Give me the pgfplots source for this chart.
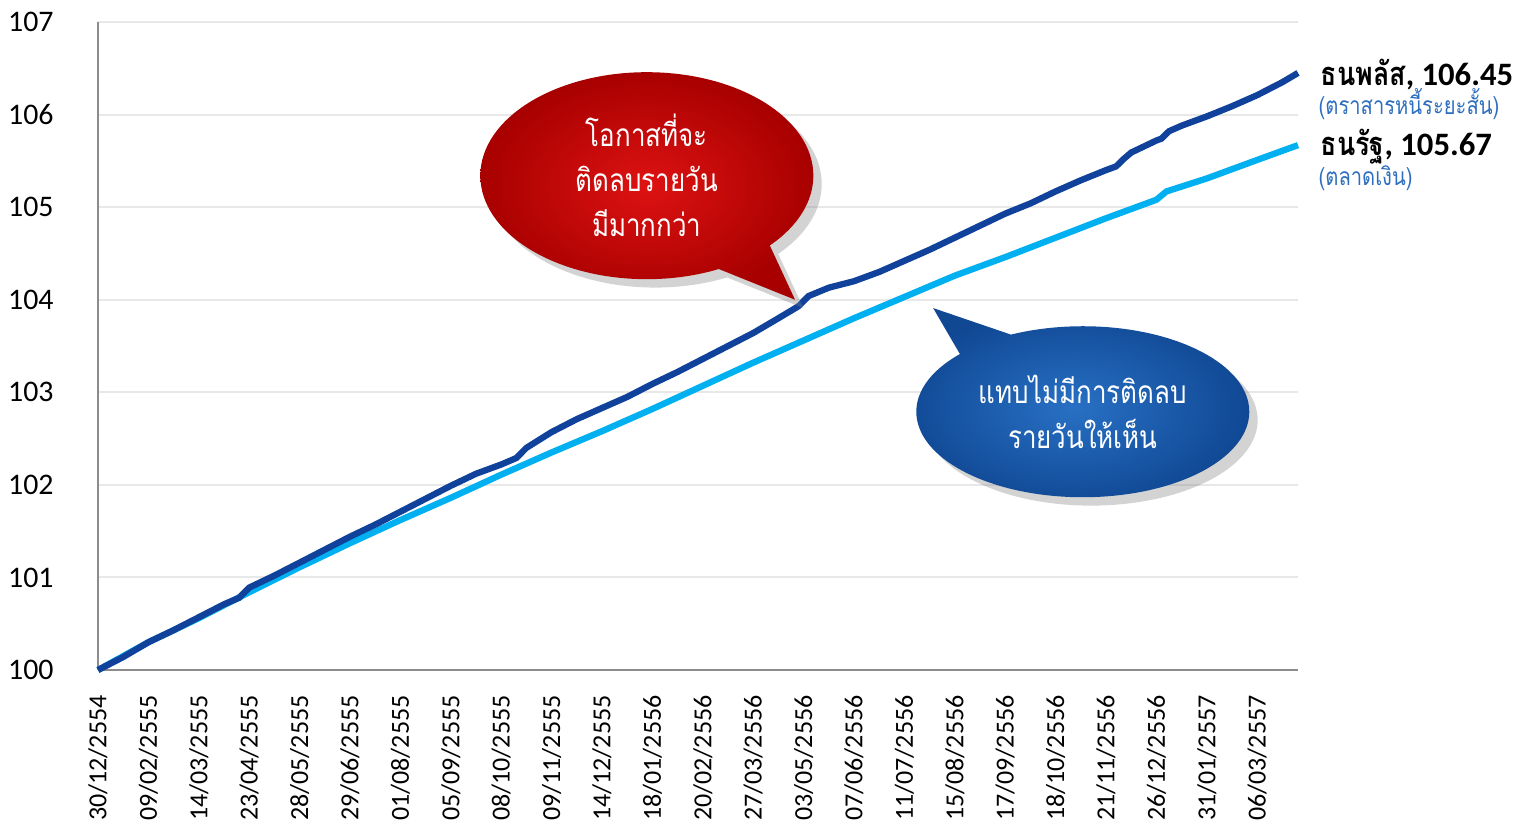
\documentclass[border=0pt]{standalone}
\usepackage{pgfplots}
\pgfplotsset{compat=1.18}
\usepackage{fontspec}
\setmainfont{Carlito}
\newfontfamily\thai[Script=Thai, FakeStretch=0.82]{Loma}
\usetikzlibrary{shapes.callouts,shadows}
\definecolor{darkline}{RGB}{16,66,156}
\definecolor{lightline}{RGB}{0,176,240}
\definecolor{subblue}{RGB}{46,110,190}
\definecolor{gridc}{RGB}{232,232,232}
\definecolor{axc}{RGB}{140,140,140}
\begin{document}
\begin{tikzpicture}
\path[use as bounding box] (-0.98cm,-1.55cm) rectangle (14.2cm,6.7cm);
\begin{axis}[
  at={(0,0)}, anchor=south west,
  scale only axis, width=12cm, height=6.48cm,
  xmin=0, xmax=23.81, ymin=100, ymax=107,
  axis lines*=left,
  axis line style={draw=axc, line width=0.6pt},
  ymajorgrids, grid style={draw=gridc, line width=0.6pt},
  major tick length=0pt,
  ytick={100,101,...,107},
  xtick={0,1,...,23},
  xticklabels={30/12/2554,09/02/2555,14/03/2555,23/04/2555,28/05/2555,29/06/2555,01/08/2555,05/09/2555,08/10/2555,09/11/2555,14/12/2555,18/01/2556,20/02/2556,27/03/2556,03/05/2556,07/06/2556,11/07/2556,15/08/2556,17/09/2556,18/10/2556,21/11/2556,26/12/2556,31/01/2557,06/03/2557},
  xticklabel style={rotate=90, anchor=east, font=\fontsize{7.4}{9}\selectfont, xshift=-1.3mm},
  yticklabel style={font=\fontsize{8.5}{10}\selectfont, xshift=-3.2mm},
  /pgf/number format/assume math mode=true,
  clip=false,
]
\addplot[lightline, line width=1.8pt] coordinates {
(0,100.00)(1,100.30)(2,100.56)(3,100.84)(4,101.11)(5,101.37)(6,101.62)(7,101.86)
(8,102.11)(9,102.35)(10,102.58)(11,102.82)(12,103.07)(13,103.32)(14,103.56)(15,103.80)
(16,104.03)(17,104.26)(18,104.46)(19,104.67)(20,104.88)(20.5,104.98)(21,105.08)(21.2,105.17)
(22,105.31)(23,105.51)(23.81,105.67)};
\addplot[darkline, line width=1.8pt] coordinates {
(0,100.00)(0.5,100.14)(1,100.30)(1.5,100.43)(2,100.57)(2.5,100.71)(2.8,100.78)(3,100.89)
(3.5,101.02)(4,101.16)(4.5,101.30)(5,101.44)(5.5,101.57)(6,101.71)(6.5,101.85)(7,101.99)
(7.5,102.12)(8,102.22)(8.3,102.29)(8.5,102.40)(9,102.57)(9.5,102.71)(10,102.83)(10.5,102.95)
(11,103.09)(11.5,103.22)(12,103.36)(12.5,103.50)(13,103.64)(13.5,103.80)(13.9,103.93)(14.1,104.04)
(14.5,104.13)(15,104.20)(15.5,104.30)(16,104.42)(16.5,104.54)(17,104.67)(17.5,104.80)(18,104.93)
(18.5,105.04)(19,105.17)(19.5,105.29)(20,105.40)(20.2,105.44)(20.35,105.52)(20.5,105.59)(21,105.72)
(21.1,105.74)(21.25,105.82)(21.5,105.88)(22,105.98)(22.5,106.09)(23,106.21)(23.5,106.35)(23.81,106.45)};
% labels
\node[anchor=west, font=\bfseries\fontsize{9.3}{11}\selectfont, inner sep=0pt] at (axis cs:23.81,106.43) [xshift=2.2mm] {{\thai ธนพลัส}, 106.45};
\node[anchor=west, font=\fontsize{7}{8.5}\selectfont, text=subblue, inner sep=0pt] at (axis cs:23.81,106.11) [xshift=2.0mm] {\thai (ตราสารหนี้ระยะสั้น)};
\node[anchor=west, font=\bfseries\fontsize{9.3}{11}\selectfont, inner sep=0pt] at (axis cs:23.81,105.65) [xshift=2.2mm] {{\thai ธนรัฐ}, 105.67};
\node[anchor=west, font=\fontsize{7}{8.5}\selectfont, text=subblue, inner sep=0pt] at (axis cs:23.81,105.31) [xshift=2.0mm] {\thai (ตลาดเงิน)};
% callouts
\node[ellipse callout, draw=none, inner color={rgb,255:red,222;green,18;blue,18}, outer color={rgb,255:red,168;green,0;blue,0},
  minimum width=33.3mm, minimum height=20.7mm, callout pointer arc=22,
  callout absolute pointer={(axis cs:13.83,104.0)}, drop shadow={opacity=0.35},
  text=white, align=center, font=\thai\fontsize{9}{12.8}\selectfont]
  at (axis cs:10.89,105.34) {โอกาสที่จะ\\ติดลบรายวัน\\มีมากกว่า};
\node[ellipse callout, draw=none, inner color={rgb,255:red,40;green,112;blue,196}, outer color={rgb,255:red,16;green,72;blue,148},
  minimum width=33.3mm, minimum height=17.1mm, callout pointer arc=22,
  callout absolute pointer={(axis cs:16.57,103.91)}, drop shadow={opacity=0.35},
  text=white, align=center, font=\thai\fontsize{9}{12.8}\selectfont]
  at (axis cs:19.54,102.79) {แทบไม่มีการติดลบ\\รายวันให้เห็น};
\end{axis}
\end{tikzpicture}
\end{document}
